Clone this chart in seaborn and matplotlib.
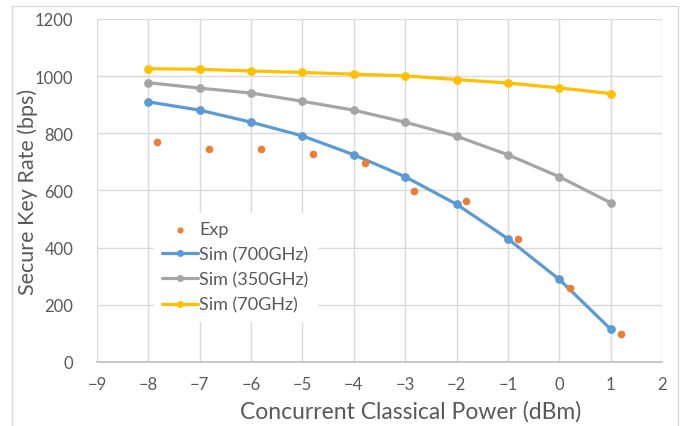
"""Secure key rate vs concurrent classical power: experiment vs simulation."""
import matplotlib
matplotlib.use("Agg")
import matplotlib.pyplot as plt
import numpy as np
import pandas as pd
import seaborn as sns
from matplotlib.patches import Rectangle

# --- data ---
sim_power = [-8, -7, -6, -5, -4, -3, -2, -1, 0, 1]
sim_700 = [910, 881, 839, 791, 725, 648, 552, 431, 289, 115]
sim_350 = [977, 958, 941, 912, 881, 839, 790, 725, 648, 557]
sim_70 = [1026, 1024, 1018, 1013, 1007, 1001, 988, 976, 959, 939]

exp_power = [-7.83, -6.82, -5.81, -4.80, -3.79, -2.82, -1.82, -0.81, 0.20, 1.20]
exp_rate = [768, 744, 744, 726, 695, 599, 563, 431, 260, 97]

series_names = ["Sim (700GHz)", "Sim (350GHz)", "Sim (70GHz)"]
series_colors = ["#5B9BD5", "#A5A5A5", "#FFC000"]
exp_color = "#ED7D31"
text_color = "#595959"

x_ticks = list(range(-9, 3))
y_ticks = list(range(0, 1201, 200))

sim_df = pd.DataFrame({
    "power": sim_power * 3,
    "rate": sim_700 + sim_350 + sim_70,
    "series": np.repeat(series_names, len(sim_power)),
})
exp_df = pd.DataFrame({"power": exp_power, "rate": exp_rate})

sns.set_style("white")
plt.rcParams["font.family"] = ["Lato", "DejaVu Sans"]

fig = plt.figure(figsize=(6.89, 4.27), dpi=100)
ax = fig.add_axes([0.1408, 0.1499, 0.8200, 0.8033])

# chart area border (Excel style)
fig.patches.append(Rectangle((12 / 689, -0.05), 666 / 689, 1 - 7 / 427 + 0.05,
                             transform=fig.transFigure, fill=False,
                             edgecolor="#d9d9d9", linewidth=1.0))

sns.scatterplot(data=exp_df, x="power", y="rate", ax=ax, color=exp_color,
                s=30, linewidth=0, label="Exp", zorder=4)
sns.lineplot(data=sim_df, x="power", y="rate", hue="series", hue_order=series_names,
             palette=series_colors, ax=ax, marker="o", markersize=6.3,
             markeredgewidth=0, linewidth=2.3, zorder=3)

ax.set_xlim(-9, 2)
ax.set_ylim(0, 1200)
ax.set_xticks(x_ticks)
ax.set_yticks(y_ticks)
ax.grid(True, color="#d9d9d9", linewidth=1.0)
ax.set_axisbelow(True)
for side in ["top", "right", "left"]:
    ax.spines[side].set_visible(False)
ax.spines["bottom"].set_color("#bfbfbf")
ax.spines["bottom"].set_linewidth(1.2)
ax.tick_params(axis="both", length=0, labelsize=12, colors=text_color, pad=10)
ax.tick_params(axis="y", pad=17)

ax.set_xlabel("Concurrent Classical Power (dBm)", fontsize=16.5, color=text_color)
ax.set_ylabel("Secure Key Rate (bps)", fontsize=15.5, color=text_color)
ax.xaxis.set_label_coords((411 - 97) / 565, -0.11)
ax.yaxis.set_label_coords((38 - 97) / 565, 0.5)

handles, labels = ax.get_legend_handles_labels()
leg = ax.legend(handles, labels, loc="upper left", bbox_to_anchor=(0.085, 0.46),
                frameon=True, fontsize=13, handlelength=2.0, handletextpad=0.05,
                labelspacing=0.5, borderpad=0.45, markerscale=0.8,
                labelcolor=text_color)
leg.get_frame().set_facecolor("white")
leg.get_frame().set_edgecolor("white")
leg.get_frame().set_alpha(1.0)

fig.savefig("out.png", dpi=100)
